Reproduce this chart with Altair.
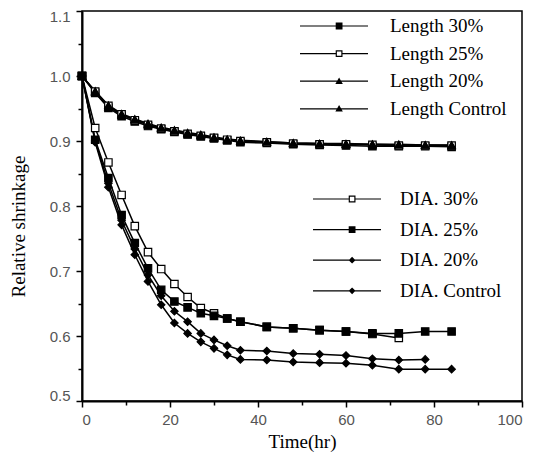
import altair as alt
import pandas as pd

# ---------------- data ----------------
time_full = [0, 3, 6, 9, 12, 15, 18, 21, 24, 27, 30, 33, 36, 42, 48, 54, 60, 66, 72, 78, 84]
time_to72 = time_full[:19]
time_to78 = time_full[:20]

length_30 = [1.0, 0.974, 0.951, 0.938, 0.930, 0.923, 0.918, 0.914, 0.910, 0.907, 0.904,
             0.901, 0.898, 0.897, 0.895, 0.894, 0.893, 0.892, 0.892, 0.892, 0.891]
length_25 = [1.0, 0.976, 0.954, 0.941, 0.932, 0.925, 0.919, 0.915, 0.911, 0.908, 0.905,
             0.902, 0.900, 0.898, 0.896, 0.895, 0.895, 0.894, 0.893, 0.893, 0.893]
length_20 = [1.0, 0.977, 0.955, 0.942, 0.934, 0.927, 0.921, 0.917, 0.913, 0.910, 0.906,
             0.903, 0.901, 0.899, 0.897, 0.896, 0.895, 0.895, 0.894, 0.894, 0.894]
length_ctrl = [1.0, 0.975, 0.953, 0.940, 0.933, 0.926, 0.920, 0.916, 0.912, 0.909, 0.905,
               0.902, 0.900, 0.899, 0.897, 0.896, 0.896, 0.895, 0.895, 0.894, 0.893]

dia_30 = [1.0, 0.920, 0.867, 0.817, 0.769, 0.729, 0.703, 0.680, 0.660, 0.643, 0.635,
          0.627, 0.622, 0.614, 0.612, 0.609, 0.607, 0.603, 0.597]
dia_25 = [1.0, 0.902, 0.843, 0.786, 0.743, 0.704, 0.671, 0.653, 0.644, 0.635, 0.631,
          0.627, 0.622, 0.614, 0.612, 0.609, 0.607, 0.604, 0.604, 0.607, 0.607]
dia_20 = [1.0, 0.900, 0.835, 0.778, 0.734, 0.694, 0.662, 0.638, 0.622, 0.604, 0.594,
          0.585, 0.578, 0.577, 0.573, 0.572, 0.570, 0.565, 0.563, 0.564]
dia_ctrl = [1.0, 0.898, 0.829, 0.771, 0.725, 0.684, 0.648, 0.620, 0.604, 0.591, 0.581,
            0.571, 0.564, 0.563, 0.560, 0.559, 0.558, 0.555, 0.549, 0.549, 0.549]

length_names = ["Length 30%", "Length 25%", "Length 20%", "Length Control"]
dia_names = ["DIA. 30%", "DIA. 25%", "DIA. 20%", "DIA. Control"]

x_ticks = [0, 10, 20, 30, 40, 50, 60, 70, 80, 90, 100]
y_ticks = [0.5, 0.55, 0.6, 0.65, 0.7, 0.75, 0.8, 0.85, 0.9, 0.95, 1.0, 1.05, 1.1]

# ---------------- styling ----------------
all_names = length_names + dia_names
plot_shapes = ["square", "square", "triangle-up", "triangle-up",
               "square", "square", "diamond", "diamond"]
plot_fills = ["black", "white", "black", "black", "white", "black", "black", "black"]

# legend symbols: a horizontal line with the marker on it, fill-only paths
line_full = "M-2,-0.035H2V0.035H-2Z "
sq_filled = line_full + "M0.1,-0.2H0.5V0.2H0.1Z"
sq_open = ("M-2,-0.035H0.1V0.035H-2Z M0.5,-0.035H2V0.035H0.5Z "
           "M0.1,-0.2H0.5V0.2H0.1Z M0.17,-0.13V0.13H0.43V-0.13Z")
tri = line_full + "M0.3,-0.22L0.52,0.16H0.08Z"
dia = line_full + "M0.3,-0.2L0.5,0L0.3,0.2L0.1,0Z"
len_paths = [sq_filled, sq_open, tri, tri]
dia_paths = [sq_open, sq_filled, dia, dia]

rows = []
for name, t, v in [
    ("Length 30%", time_full, length_30), ("Length 25%", time_full, length_25),
    ("Length 20%", time_full, length_20), ("Length Control", time_full, length_ctrl),
    ("DIA. 30%", time_to72, dia_30), ("DIA. 25%", time_full, dia_25),
    ("DIA. 20%", time_to78, dia_20), ("DIA. Control", time_full, dia_ctrl),
]:
    for ti, vi in zip(t, v):
        rows.append({"Time": ti, "Value": vi, "Series": name})
df = pd.DataFrame(rows)

serif = "Liberation Serif"
sans = "Liberation Sans"

x_enc = alt.X(
    "Time:Q",
    scale=alt.Scale(domain=[0, 100], nice=False),
    axis=alt.Axis(
        values=x_ticks, title="Time(hr)", grid=False,
        labelExpr="datum.value % 20 == 0 ? datum.label : ''",
        tickSize={"condition": {"test": "datum.value % 20 == 0", "value": 6}, "value": 4},
        labelFont=sans, labelFontSize=15, labelColor="#555", labelPadding=5,
        titleFont=serif, titleFontSize=19, titleFontWeight="normal", titleColor="black",
        titlePadding=5,
    ),
)
y_enc = alt.Y(
    "Value:Q",
    scale=alt.Scale(domain=[0.5, 1.1], nice=False, zero=False),
    axis=alt.Axis(
        values=y_ticks, title="Relative shrinkage", grid=False,
        labelExpr="round(datum.value * 100) % 10 == 0 ? format(datum.value, '.1f') : ''",
        tickSize={"condition": {"test": "round(datum.value * 100) % 10 == 0", "value": 6}, "value": 4},
        labelFont=sans, labelFontSize=15, labelColor="#555", labelPadding=6,
        labelFlush=True, labelFlushOffset=2,
        titleFont=serif, titleFontSize=19, titleFontWeight="normal", titleColor="black",
        titleX=-54, titleY=215,
    ),
)

base = alt.Chart(df)

lines = base.mark_line(color="black", strokeWidth=1.5).encode(
    x=x_enc, y=y_enc, detail="Series:N", order="Time:Q"
)

points = base.mark_point(filled=True, stroke="black", strokeWidth=1.2, size=55, opacity=1).encode(
    x=x_enc, y=y_enc,
    shape=alt.Shape("Series:N", scale=alt.Scale(domain=all_names, range=plot_shapes), legend=None),
    fill=alt.Fill("Series:N", scale=alt.Scale(domain=all_names, range=plot_fills), legend=None),
)


def legend_layer(names, paths, lx, ly, rowpad, loff):
    leg = alt.Legend(
        title=None, orient="none", legendX=lx, legendY=ly,
        symbolSize=1156, symbolStrokeWidth=0,
        labelFont=serif, labelFontSize=19, labelColor="black", labelOffset=loff,
        rowPadding=rowpad, padding=0,
    )
    return base.transform_filter("false").mark_point(
        filled=True, color="black", strokeWidth=0, opacity=1
    ).encode(
        x=x_enc, y=y_enc,
        shape=alt.Shape("Series:N", scale=alt.Scale(domain=names, range=paths), legend=leg),
    )


leg_len = legend_layer(length_names, len_paths, 235, -2, 0.6, 39)
leg_dia = legend_layer(dia_names, dia_paths, 248, 171, 3.6, 36)

chart = (
    alt.layer(lines, points, leg_len, leg_dia)
    .resolve_scale(shape="independent", fill="independent")
    .properties(
        width=440, height=390,
        padding={"left": 74, "top": 3, "right": 19, "bottom": 51},
        autosize="none",
    )
    .configure_view(stroke="black", strokeWidth=1.5)
    .configure_axis(domainColor="black", domainWidth=2, tickColor="black", tickWidth=1.5)
)

chart.save("out.html", embed_options={"renderer": "svg", "actions": False})
